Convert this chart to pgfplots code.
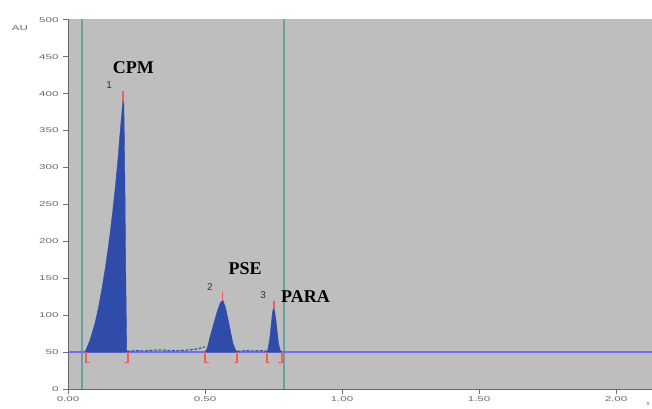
\documentclass[border=0pt]{standalone}
\usepackage{pgfplots}
\pgfplotsset{compat=1.18}
\usepackage{fontspec}
\setmainfont{Liberation Serif}
\newfontfamily\sansf{Liberation Sans}
\usepackage{graphicx}
\definecolor{bggray}{RGB}{190,190,190}
\definecolor{peakblue}{RGB}{48,76,170}
\definecolor{baseblue}{RGB}{110,110,232}
\definecolor{tealline}{RGB}{105,160,160}
\definecolor{marker}{RGB}{235,95,95}
\definecolor{ticktext}{RGB}{105,105,105}
\begin{document}
\begin{tikzpicture}[x=1bp,y=1bp]
\path[use as bounding box] (0,0) rectangle (652,408);
\begin{axis}[
  at={(68bp,19bp)}, anchor=south west,
  scale only axis, width=584bp, height=370bp,
  xmin=0, xmax=2.1314, ymin=0, ymax=501,
  axis background/.style={fill=bggray},
  axis x line*=bottom, axis y line*=left,
  axis line style={draw=black!60, line width=0.8pt, -},
  /pgf/number format/assume math mode=true,
  ytick={0,50,...,500},
  xtick={0,0.5,1,1.5,2},
  tick align=outside, tick pos=left,
  major tick length=5bp,
  tick style={draw=black!55, line width=0.5pt},
  yticklabel={\scalebox{1.65}[1]{\pgfmathprintnumber{\tick}}},
  xticklabel={\scalebox{1.65}[1]{\pgfmathprintnumber[fixed,fixed zerofill,precision=2]{\tick}}},
  ticklabel style={font=\sansf\fontsize{7bp}{8bp}\selectfont, text=ticktext},
  yticklabel style={xshift=-1bp},
  xticklabel style={yshift=1bp},
  clip=false,
]
% teal vertical lines
\addplot[tealline, line width=1.4pt] coordinates {(0.051,0) (0.051,501)};
\addplot[tealline, line width=1.4pt] coordinates {(0.788,0) (0.788,501)};
% baseline
\addplot[baseblue, line width=1.3pt] coordinates {(0,50) (2.1314,50)};
% peaks
\addplot[fill=peakblue, draw=peakblue, line width=0.4pt] coordinates {
(0.062,50) (0.068,55) (0.080,66) (0.0985,89) (0.111,110) (0.123,134) (0.135,161)
(0.147,192) (0.156,218) (0.165,247) (0.173,275) (0.181,306) (0.187,333) (0.193,360)
(0.198,380) (0.201,392) (0.204,385) (0.206,330) (0.208,270) (0.209,225) (0.211,150)
(0.213,90) (0.2145,50)} -- cycle;
\addplot[fill=peakblue, draw=peakblue, line width=0.4pt] coordinates {
(0.500,50) (0.508,55) (0.518,70) (0.530,86) (0.543,103) (0.555,116) (0.565,121)
(0.575,110) (0.585,93) (0.594,76) (0.602,62) (0.610,54) (0.618,50)} -- cycle;
\addplot[fill=peakblue, draw=peakblue, line width=0.4pt] coordinates {
(0.727,50) (0.732,58) (0.737,71) (0.742,88) (0.746,103) (0.750,110) (0.753,109)
(0.759,93) (0.764,76) (0.768,62) (0.774,53) (0.780,50)} -- cycle;
% trace between peaks
\addplot[peakblue, line width=1.1pt, dash pattern=on 3bp off 1.5bp] coordinates {
(0.215,51) (0.250,52) (0.280,51.5) (0.310,52.5) (0.340,53) (0.370,52) (0.400,52)
(0.430,52.5) (0.460,53.5) (0.480,55) (0.500,57)};
\addplot[peakblue, line width=1.1pt, dash pattern=on 3bp off 1.5bp] coordinates {
(0.618,51) (0.650,52) (0.680,51.5) (0.700,52) (0.727,51)};
% apex markers
\addplot[marker, line width=1.4pt] coordinates {(0.201,390) (0.201,403)};
\addplot[marker, line width=1.4pt] coordinates {(0.564,119) (0.564,131)};
\addplot[marker, line width=1.4pt] coordinates {(0.752,108) (0.752,119)};
% integration brackets
\addplot[marker, line width=1.5pt] coordinates {(0.066,50) (0.066,36) (0.079,36)};
\addplot[marker, line width=1.5pt] coordinates {(0.219,50) (0.219,36) (0.206,36)};
\addplot[marker, line width=1.5pt] coordinates {(0.500,50) (0.500,36) (0.513,36)};
\addplot[marker, line width=1.5pt] coordinates {(0.617,50) (0.617,36) (0.604,36)};
\addplot[marker, line width=1.5pt] coordinates {(0.726,50) (0.726,36) (0.739,36)};
\addplot[marker, line width=1.5pt] coordinates {(0.781,50) (0.781,36) (0.768,36)};
% labels
\node[anchor=base, font=\bfseries\fontsize{18bp}{20bp}\selectfont] at (axis cs:0.239,427) {CPM};
\node[anchor=base, font=\bfseries\fontsize{18bp}{20bp}\selectfont] at (axis cs:0.646,154.5) {PSE};
\node[anchor=base, font=\bfseries\fontsize{18bp}{20bp}\selectfont] at (axis cs:0.867,116.5) {PARA};
\node[anchor=base, font=\sansf\fontsize{10bp}{11bp}\selectfont, text=black!80] at (axis cs:0.150,406.5) {1};
\node[anchor=base, font=\sansf\fontsize{10bp}{11bp}\selectfont, text=black!80] at (axis cs:0.518,134) {2};
\node[anchor=base, font=\sansf\fontsize{10bp}{11bp}\selectfont, text=black!80] at (axis cs:0.712,123) {3};
\end{axis}
\node[font=\sansf\fontsize{7bp}{8bp}\selectfont, text=ticktext] at (20bp,380bp) {\scalebox{1.65}[1]{AU}};
\node[font=\sansf\fontsize{6bp}{7bp}\selectfont, text=ticktext] at (648bp,4bp) {s};
\end{tikzpicture}
\end{document}
